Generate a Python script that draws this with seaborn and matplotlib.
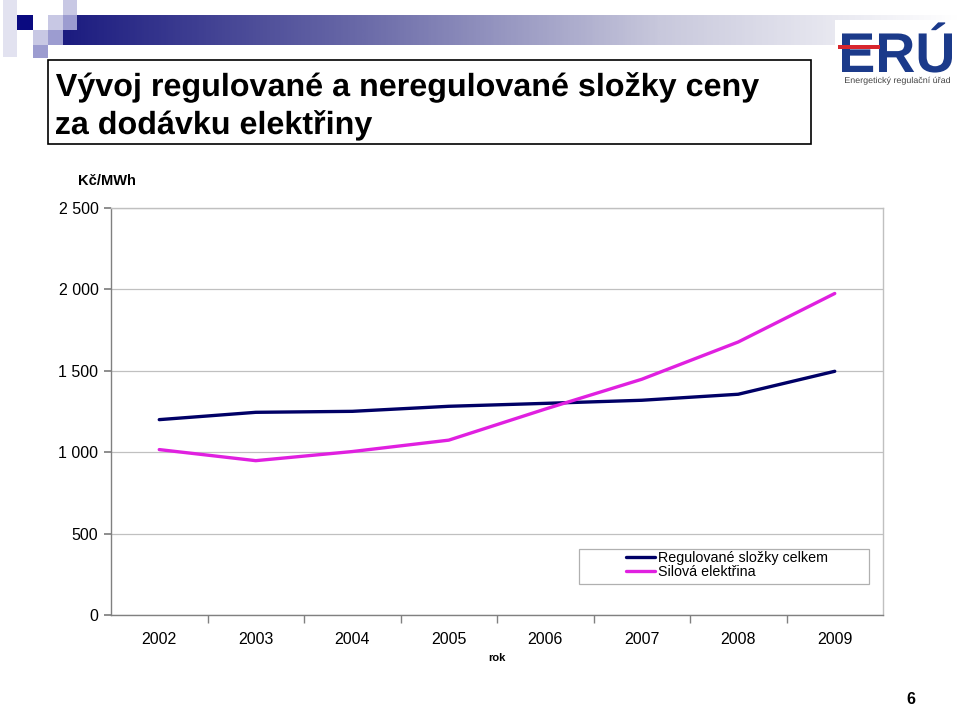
import numpy as np
import pandas as pd
import matplotlib
matplotlib.use("Agg")
import matplotlib.pyplot as plt
import seaborn as sns
from matplotlib.patches import Rectangle, PathPatch
from matplotlib.textpath import TextPath
from matplotlib.font_manager import FontProperties
from matplotlib.transforms import Affine2D

# data
years = [2002, 2003, 2004, 2005, 2006, 2007, 2008, 2009]
regulovane = [1200, 1245, 1251, 1282, 1300, 1319, 1356, 1497]
silova = [1016, 948, 1004, 1074, 1265, 1448, 1677, 1975]
series_names = ["Regulované složky celkem", "Silová elektřina"]
y_ticks = [0, 500, 1000, 1500, 2000, 2500]
y_tick_labels = ["0", "500", "1 000", "1 500", "2 000", "2 500"]

df = pd.DataFrame({
    "rok": years * 2,
    "value": regulovane + silova,
    "serie": [series_names[0]] * len(years) + [series_names[1]] * len(years),
})

sns.set_theme(style="white")
plt.rcParams["font.family"] = ["Liberation Sans", "DejaVu Sans"]
plt.rcParams["text.color"] = "black"
plt.rcParams["xtick.color"] = "black"
plt.rcParams["ytick.color"] = "black"

W, H = 960, 705
fig = plt.figure(figsize=(9.6, 7.05), dpi=100)
pix = Affine2D().scale(1 / W, 1 / H) + fig.transFigure


def px(x0, y0, w, h):
    # pixel box (top-left origin) -> figure fraction
    return (x0 / W, 1 - (y0 + h) / H, w / W, h / H)


def rect(x0, y0, w, h, color, **kw):
    fig.add_artist(Rectangle((x0, H - y0 - h), w, h, transform=pix,
                             facecolor=color, edgecolor="none", **kw))


def narrow_text(s, x, base, size, color, sx=None, width=None, weight="bold", z=2):
    # condensed text drawn as a path (no narrow font installed)
    tp = TextPath((0, 0), s, size=size,
                  prop=FontProperties(family="Liberation Sans", weight=weight))
    ext = tp.get_extents()
    if sx is None:
        sx = width / ext.width
    tr = Affine2D().translate(-ext.x0, 0).scale(sx, 1).translate(x, H - base)
    fig.add_artist(PathPatch(tr.transform_path(tp), facecolor=color,
                             edgecolor="none", transform=pix, zorder=z))
    return sx


# header gradient bar
grad_ax = fig.add_axes(px(63, 15, 897, 30))
grad = np.linspace(0, 1, 400).reshape(1, -1)
grad_ax.imshow(grad, aspect="auto", cmap=matplotlib.colors.LinearSegmentedColormap.from_list(
    "hdr", ["#1c1c80", "#6a6aa8", "#c8c8dc", "#ffffff"]), extent=(0, 1, 0, 1))
grad_ax.set_axis_off()
rect(3, 0, 14, 57, "#e2e2f0", zorder=5)
rect(17, 15, 16, 15, "#0a0a80", zorder=5)
rect(63, 0, 14, 15, "#c8c8e4", zorder=5)
rect(48, 15, 15, 15, "#c8c8e4", zorder=5)
rect(63, 15, 14, 15, "#9c9cd0", zorder=5)
rect(33, 30, 15, 15, "#c8c8e4", zorder=5)
rect(48, 30, 15, 15, "#9c9cd0", zorder=5)
rect(33, 45, 15, 13, "#9c9cd0", zorder=5)

# title box
fig.add_artist(Rectangle((48, H - 144), 763, 84, transform=pix,
                         facecolor="white", edgecolor="black", lw=1.2))
sx = narrow_text("Vývoj regulované a neregulované složky ceny", 56, 96, 32, "black", width=703)
narrow_text("za dodávku elektřiny", 56, 134, 32, "black", sx=sx)

# logo
rect(835, 20, 122, 68, "white", zorder=6)
narrow_text("ERÚ", 842, 72, 56, "#1b3a8a", width=110, z=7)
rect(838, 45, 42, 4, "#d8262e", zorder=8)
narrow_text("Energetický regulační úřad", 845, 83, 8.5, "#444444", width=105,
            weight="normal", z=7)

# chart
ax = fig.add_axes(px(111, 208, 772, 407))
sns.lineplot(data=df, x="rok", y="value", hue="serie", ax=ax,
             palette=["#000066", "#e020e0"], linewidth=2.4, legend=True)

ax.set_xlim(2001.5, 2009.5)
ax.set_ylim(0, 2500)
ax.set_yticks(y_ticks)
ax.set_yticklabels(y_tick_labels)
ax.set_xticks(years)
ax.set_xticks([y + 0.5 for y in years[:-1]], minor=True)
ax.tick_params(axis="x", which="major", length=0, pad=12, labelsize=11.5)
ax.tick_params(axis="x", which="minor", length=6, direction="out", color="#808080", bottom=True)
ax.tick_params(axis="y", length=5, direction="out", color="#808080", left=True,
               labelsize=11.5, pad=4)
ax.yaxis.grid(True, color="#c0c0c0", lw=0.9)
ax.set_axisbelow(True)
for s in ["top", "right"]:
    ax.spines[s].set_color("#c0c0c0")
for s in ["left", "bottom"]:
    ax.spines[s].set_color("#808080")
for s in ax.spines.values():
    s.set_linewidth(1)

ax.set_xlabel("")
ax.set_ylabel("")
fig.text(107 / W, 1 - 181 / H, "Kč/MWh", fontsize=10.5, fontweight="bold",
         ha="center", va="center")
fig.text(497 / W, 1 - 658 / H, "rok", fontsize=8, fontweight="bold",
         ha="center", va="center")

# legend: frame drawn like the original wide box, entries placed inside
ax.add_patch(Rectangle(((579 - 111) / 772, (615 - 584) / 407), 290 / 772, 35 / 407,
                       transform=ax.transAxes, facecolor="white", edgecolor="#b0b0b0",
                       lw=0.9, zorder=4))
leg = ax.legend(loc="upper left", bbox_to_anchor=((624 - 111) / 772, (615 - 549) / 407),
                frameon=False, fontsize=10.3, handlelength=2.0, handletextpad=0.25,
                borderpad=0.15, labelspacing=0.0, borderaxespad=0)
leg.set_zorder(5)
for line in leg.get_lines():
    line.set_linewidth(2.4)

fig.text(911 / W, 1 - 699 / H, "6", fontsize=11.5, fontweight="bold",
         ha="center", va="center")

fig.savefig("out.png", dpi=100)
